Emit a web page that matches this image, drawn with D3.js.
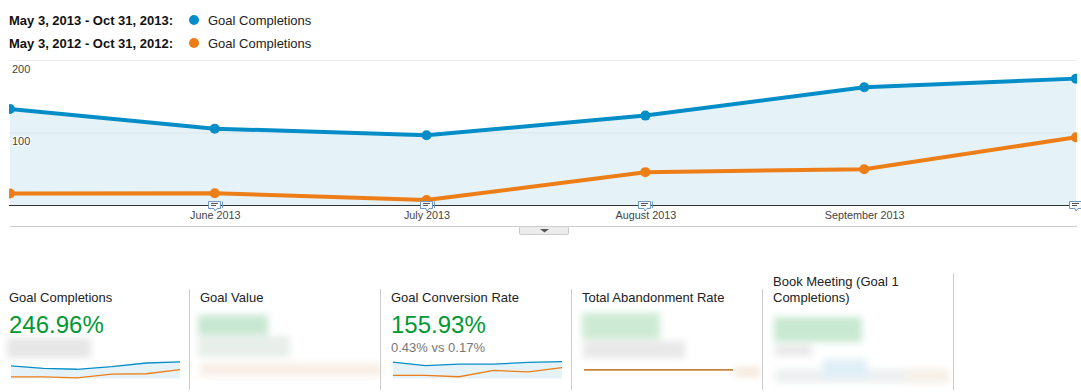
<!DOCTYPE html>
<html>
<head>
<meta charset="utf-8">
<script src="https://cdnjs.cloudflare.com/ajax/libs/d3/7.8.5/d3.min.js"></script>
<style>
body { margin: 0; background: #fff; }
svg { display: block; font-family: "Liberation Sans", Arial, sans-serif; }
.axis path, .axis line { display: none; }
</style>
</head>
<body>
<svg id="chart" width="1081" height="392"></svg>
<script>
const months = ['2013-05-03', '2013-06-01', '2013-07-01', '2013-08-01', '2013-09-01', '2013-10-01']
const completions2013 = [133, 106, 97, 124, 163, 175]
const completions2012 = [16.5, 17, 7.5, 46, 50, 94]
const rate2013 = [0.47, 0.37, 0.41, 0.41, 0.46, 0.48]
const rate2012 = [0.09, 0.09, 0.05, 0.23, 0.19, 0.31]
const abandon2013 = [100, 100, 100, 100, 100, 100]
const abandon2012 = [100, 100, 100, 100, 100, 100]
const yTicks = [100, 200]
const xTickDates = ['2013-06-01', '2013-07-01', '2013-08-01', '2013-09-01']
const annotationDates = ['2013-06-01', '2013-07-01', '2013-08-01', '2013-10-01']
const legendRanges = ['May 3, 2013 - Oct 31, 2013:', 'May 3, 2012 - Oct 31, 2012:']
const cardTitles = ['Goal Completions', 'Goal Value', 'Goal Conversion Rate', 'Total Abandonment Rate', ['Book Meeting (Goal 1', 'Completions)']]
const blue = '#058dc7'
const orange = '#ed7e17'

const dates = months.map(d => new Date(d + 'T00:00:00Z'))
const svg = d3.select('#chart')

// smudges where the source screenshot was blurred out
const smudges = [
    {x: 7, y: 338, w: 84, h: 20, c: '#e6e6e6'},
    {x: 198, y: 315, w: 70, h: 20, c: '#c8e7d2'},
    {x: 198, y: 336, w: 92, h: 21, c: '#e8eeea'},
    {x: 200, y: 363, w: 181, h: 13, c: '#f8efe6'},
    {x: 582, y: 313, w: 78, h: 26, c: '#cdead4'},
    {x: 583, y: 341, w: 102, h: 17, c: '#e8e8e8'},
    {x: 735, y: 367, w: 25, h: 10, c: '#f5e9dd'},
    {x: 774, y: 317, w: 88, h: 25, c: '#c8e8d1'},
    {x: 775, y: 345, w: 37, h: 11, c: '#e8e8e8'},
    {x: 775, y: 369, w: 174, h: 14, c: '#edf1f1'},
    {x: 823, y: 359, w: 44, h: 19, c: '#e0eef6'},
    {x: 907, y: 369, w: 42, h: 13, c: '#f6efe6'}
]

svg.append('defs').append('filter').attr('id', 'smudge')
    .attr('x', '-30%').attr('y', '-60%').attr('width', '160%').attr('height', '220%')
    .append('feGaussianBlur').attr('stdDeviation', 3.5)

svg.append('defs').append('clipPath').attr('id', 'plot')
    .append('rect').attr('x', 9).attr('y', 60).attr('width', 1068).attr('height', 146)

// legend
const legend = svg.selectAll('g.legend').data(legendRanges).enter().append('g')
    .attr('class', 'legend')
    .attr('transform', (d, i) => `translate(0,${i === 0 ? 20 : 43})`)
legend.append('text').attr('x', 9).attr('dy', '.35em')
    .attr('font-size', 13).attr('font-weight', 'bold').attr('fill', '#111')
    .text(d => d)
legend.append('circle').attr('cx', 194).attr('r', 5)
    .attr('fill', (d, i) => i === 0 ? blue : orange)
legend.append('text').attr('x', 208).attr('dy', '.35em')
    .attr('font-size', 13).attr('fill', '#222')
    .text('Goal Completions')

// main chart
const x = d3.scaleUtc().domain([dates[0], dates[5]]).range([10, 1076])
const y = d3.scaleLinear().domain([0, 200]).range([205.5, 60.5])

const line = values => d3.line().x((d, i) => x(dates[i])).y(d => y(d))(values)
const plot = svg.append('g').attr('clip-path', 'url(#plot)')

plot.append('path')
    .attr('d', d3.area().x((d, i) => x(dates[i])).y0(y(0)).y1(d => y(d))(completions2013))
    .attr('fill', '#e5f2f8')

plot.selectAll('line.grid').data(yTicks).enter().append('line')
    .attr('class', 'grid')
    .attr('x1', 9).attr('x2', 1077)
    .attr('y1', d => y(d)).attr('y2', d => y(d))
    .attr('stroke', d => d === 200 ? '#eeeeee' : '#dbe6ea')

const series = [[completions2012, orange], [completions2013, blue]]
series.forEach(([values, colour]) => {
    plot.append('path').attr('d', line(values))
        .attr('fill', 'none').attr('stroke', colour).attr('stroke-width', 4)
    plot.selectAll(null).data(values).enter().append('circle')
        .attr('cx', (d, i) => x(dates[i])).attr('cy', d => y(d)).attr('r', 5)
        .attr('fill', colour)
})

svg.append('line').attr('x1', 9).attr('x2', 1077).attr('y1', 205.5).attr('y2', 205.5)
    .attr('stroke', '#333')
svg.append('line').attr('x1', 10).attr('x2', 1077).attr('y1', 226.5).attr('y2', 226.5)
    .attr('stroke', '#cccccc')

// annotation bubbles on the baseline
const notes = svg.selectAll('g.note').data(annotationDates).enter().append('g')
    .attr('class', 'note')
    .attr('transform', d => `translate(${Math.round(x(new Date(d + 'T00:00:00Z')))},205)`)
notes.append('path').attr('d', 'M-6.5 -3.5H5.5V3.5H2L0 6L-1 3.5H-6.5Z')
    .attr('fill', '#f4f8fb').attr('stroke', '#6f97bd')
notes.append('path').attr('d', 'M7.5 -3.5V3').attr('stroke', '#6f97bd').attr('fill', 'none')
notes.append('path').attr('d', 'M-4 -1.5H3M-4 .5H1').attr('stroke', '#555').attr('fill', 'none')

const yAxis = d3.axisRight(y).tickValues(yTicks).tickSize(0).tickPadding(0)
svg.append('g').attr('class', 'axis').attr('transform', 'translate(12,8)').call(yAxis)
    .call(g => g.selectAll('text').attr('font-size', 11).attr('fill', '#444')
        .attr('font-family', 'inherit')
        .attr('stroke', d => d === 100 ? '#fff' : 'none').attr('stroke-width', 2)
        .attr('paint-order', 'stroke'))

const xAxis = d3.axisBottom(x)
    .tickValues(xTickDates.map(d => new Date(d + 'T00:00:00Z')))
    .tickFormat(d3.utcFormat('%B %Y')).tickSize(0).tickPadding(0)
svg.append('g').attr('class', 'axis').attr('transform', 'translate(0,211)').call(xAxis)
    .call(g => g.selectAll('text').attr('font-size', 10.8).attr('fill', '#444')
        .attr('font-family', 'inherit'))

// collapse handle
svg.append('rect').attr('x', 519.5).attr('y', 226.5).attr('width', 49).attr('height', 8)
    .attr('rx', 1).attr('fill', '#ececec').attr('stroke', '#cccccc')
svg.append('path').attr('d', d3.line()([[540, 229], [549, 229], [544.5, 232.5]]))
    .attr('fill', '#555')

// smudges
svg.append('g').attr('filter', 'url(#smudge)')
    .selectAll('rect').data(smudges).enter().append('rect')
    .attr('x', d => d.x).attr('y', d => d.y).attr('width', d => d.w).attr('height', d => d.h)
    .attr('fill', d => d.c)

// scorecards
const dividers = [[189, 289], [380, 289], [571, 289], [762, 289], [953, 273]]
svg.selectAll('line.divider').data(dividers).enter().append('line')
    .attr('class', 'divider')
    .attr('x1', d => d[0] + .5).attr('x2', d => d[0] + .5)
    .attr('y1', d => d[1]).attr('y2', 390)
    .attr('stroke', '#cccccc')

const titleX = [9, 200, 391, 582, 773]
cardTitles.forEach((t, i) => {
    const lines = Array.isArray(t) ? t : [t]
    svg.append('text').attr('font-size', 13).attr('fill', '#222')
        .selectAll('tspan').data(lines).enter().append('tspan')
        .attr('x', titleX[i])
        .attr('y', (d, j) => lines.length > 1 ? 286 + j * 16 : 302)
        .text(d => d)
})

const bigValues = [[9, '246.96%'], [391, '155.93%']]
svg.selectAll('text.big').data(bigValues).enter().append('text')
    .attr('class', 'big')
    .attr('x', d => d[0]).attr('y', 333)
    .attr('font-size', 24).attr('fill', '#009933')
    .text(d => d[1])
svg.append('text').attr('x', 391).attr('y', 352).attr('font-size', 13).attr('fill', '#777')
    .text('0.43% vs 0.17%')

// sparklines
const spark = (left, top, max, current, previous) => {
    const sx = d3.scaleUtc().domain([dates[0], dates[5]]).range([left, left + 169])
    const sy = d3.scaleLinear().domain([0, max]).range([top + 17.5, top])
    const sline = d3.line().x((d, i) => sx(dates[i])).y(d => sy(d))
    svg.append('path')
        .attr('d', d3.area().x((d, i) => sx(dates[i])).y0(sy(0)).y1(d => sy(d))(current))
        .attr('fill', '#e5f2f8')
    svg.append('path').attr('d', sline(previous))
        .attr('fill', 'none').attr('stroke', orange).attr('stroke-width', 1.3)
    svg.append('path').attr('d', sline(current))
        .attr('fill', 'none').attr('stroke', blue).attr('stroke-width', 1.3)
}
spark(11, 361, 184, completions2013, completions2012)
spark(393, 361, 0.5, rate2013, rate2012)

const ax = d3.scaleUtc().domain([dates[0], dates[5]]).range([584, 733])
const ay = d3.scaleLinear().domain([0, 100]).range([378, 369.7])
;[abandon2013, abandon2012].forEach(values => {
    svg.append('path')
        .attr('d', d3.line().x((d, i) => ax(dates[i])).y(d => ay(d))(values))
        .attr('fill', 'none').attr('stroke', '#c8843c').attr('stroke-width', 1.5)
})
</script>
</body>
</html>
